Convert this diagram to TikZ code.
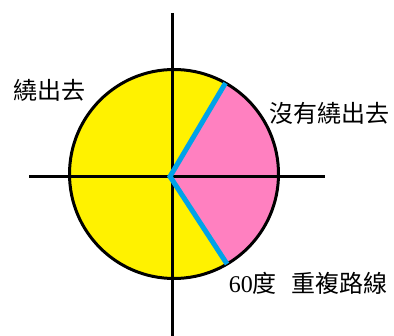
\documentclass[tikz,border=0pt]{standalone}
\usepackage{fontspec}
\usetikzlibrary{calc}
\setmainfont{Liberation Serif}
\newfontfamily\cjk{Noto Sans CJK TC}
\definecolor{fillyellow}{RGB}{255,242,0}
\definecolor{fillpink}{RGB}{255,128,192}
\definecolor{pathblue}{RGB}{0,162,232}
\begin{document}
\begin{tikzpicture}[x=1pt,y=-1pt,
  axis/.style={line width=3pt,black},
  rim/.style={line width=3pt,black},
  route/.style={line width=5pt,pathblue,line join=miter},
  lbl/.style={font=\fontsize{24}{28}\selectfont\cjk,inner sep=0pt,anchor=center}]
\useasboundingbox (0,0) rectangle (394,336);
\fill[white] (0,0) rectangle (394,336);
\coordinate (O) at (174,174);
\coordinate (V) at (170,176.5);
\coordinate (P1) at ($(O)+(-60.5:104.5)$);
\coordinate (P2) at ($(O)+(59.5:104.5)$);
\coordinate (HL) at (29,176.5);
\coordinate (HR) at (325,176.5);
\coordinate (VT) at (172.5,13);
\coordinate (VB) at (172.5,336);
% discs
\fill[fillyellow] (O) circle[radius=104.5];
\fill[fillpink] (V) -- (P1) arc[start angle=-60.5,end angle=59.5,radius=104.5] -- cycle;
% axes
\draw[axis] (HL) -- (HR);
\draw[axis] (VT) -- (VB);
% rim
\draw[rim] (O) circle[radius=104.5];
% route
\draw[route] (P1) -- (V) -- (P2);
% labels
\node[lbl] (l1) at (49,90) {繞出去};
\node[lbl] (l2) at (329,113) {沒有繞出去};
\node[lbl] (l3) at (308,283) {\fontsize{24}{28}\selectfont\rmfamily 60\cjk 度\hspace{0.6em}重複路線};
\end{tikzpicture}
\end{document}
